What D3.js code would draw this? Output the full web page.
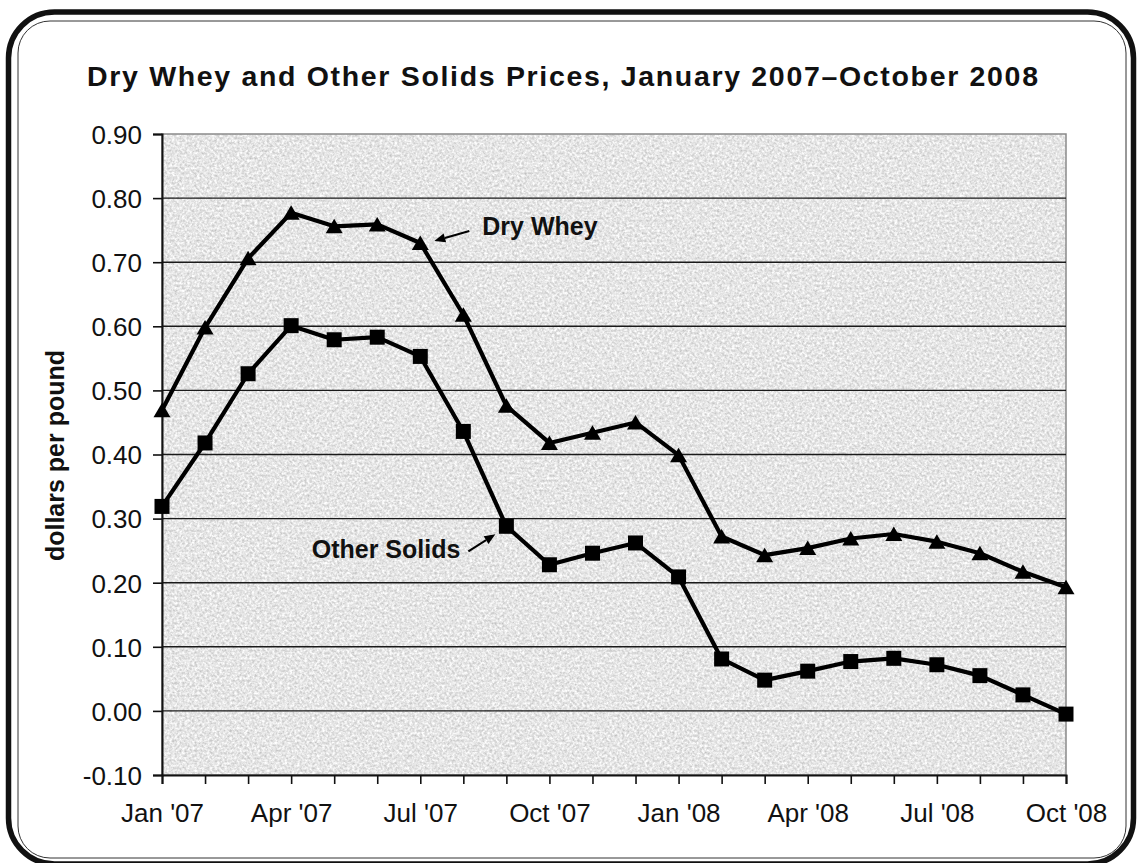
<!DOCTYPE html>
<html>
<head>
<meta charset="utf-8">
<script src="https://cdn.jsdelivr.net/npm/d3@7"></script>
<style>
  html, body { margin: 0; padding: 0; background: #fff; }
  text { font-family: "Liberation Sans", Arial, Helvetica, sans-serif; fill: #111; }
</style>
</head>
<body>
<div id="chart"></div>
<script>
const months = [
  "Jan '07", "Feb '07", "Mar '07", "Apr '07", "May '07", "Jun '07",
  "Jul '07", "Aug '07", "Sep '07", "Oct '07", "Nov '07", "Dec '07",
  "Jan '08", "Feb '08", "Mar '08", "Apr '08", "May '08", "Jun '08",
  "Jul '08", "Aug '08", "Sep '08", "Oct '08",
];
const tickLabels = ["Jan '07", "Apr '07", "Jul '07", "Oct '07", "Jan '08", "Apr '08", "Jul '08", "Oct '08"];
const yTicks = [-0.1, 0, 0.1, 0.2, 0.3, 0.4, 0.5, 0.6, 0.7, 0.8, 0.9];

const dryWhey = [
  0.469, 0.598, 0.706, 0.777, 0.756, 0.759, 0.730, 0.618, 0.476, 0.418, 0.434,
  0.450, 0.399, 0.272, 0.243, 0.254, 0.269, 0.276, 0.264, 0.246, 0.217, 0.193,
];
const otherSolids = [
  0.319, 0.418, 0.526, 0.601, 0.579, 0.583, 0.553, 0.436, 0.288, 0.228, 0.246,
  0.262, 0.209, 0.081, 0.048, 0.062, 0.077, 0.082, 0.072, 0.055, 0.025, -0.005,
];

const title = "Dry Whey and Other Solids Prices, January 2007\u2013October 2008";
const yTitle = "dollars per pound";

const width = 1145;
const height = 863;
const plot = { left: 162, right: 1066, top: 134, bottom: 775 };

const svg = d3
  .select("#chart")
  .append("svg")
  .attr("width", width)
  .attr("height", height);

// speckled gray fill of the plot area
const defs = svg.append("defs");
const noise = defs
  .append("filter")
  .attr("id", "granite")
  .attr("x", 0)
  .attr("y", 0)
  .attr("width", 1)
  .attr("height", 1)
  .attr("color-interpolation-filters", "sRGB");
noise
  .append("feTurbulence")
  .attr("type", "fractalNoise")
  .attr("baseFrequency", 0.4)
  .attr("numOctaves", 3)
  .attr("seed", 7);
noise
  .append("feColorMatrix")
  .attr("type", "matrix")
  .attr("values", "0.36 0 0 0 0.72  0.36 0 0 0 0.72  0.36 0 0 0 0.72  0 0 0 0 1");

// frame
svg
  .append("rect")
  .attr("x", 8.5)
  .attr("y", 12)
  .attr("width", 1125)
  .attr("height", 852)
  .attr("rx", 46)
  .attr("fill", "none")
  .attr("stroke", "#111")
  .attr("stroke-width", 5.5);

svg
  .append("rect")
  .attr("x", 18)
  .attr("y", 21)
  .attr("width", 1108)
  .attr("height", 837)
  .attr("rx", 32)
  .attr("fill", "#fff")
  .attr("stroke", "#333")
  .attr("stroke-width", 1);

/* Scales */
const xScale = d3.scalePoint().domain(months).range([plot.left, plot.right]);
const yScale = d3.scaleLinear().domain([-0.1, 0.9]).range([plot.bottom, plot.top]);

svg
  .append("rect")
  .attr("x", plot.left)
  .attr("y", plot.top)
  .attr("width", plot.right - plot.left)
  .attr("height", plot.bottom - plot.top)
  .attr("filter", "url(#granite)")
  .attr("fill", "#e2e2e2");

svg
  .append("rect")
  .attr("x", plot.left)
  .attr("y", plot.top)
  .attr("width", plot.right - plot.left)
  .attr("height", plot.bottom - plot.top)
  .attr("fill", "none")
  .attr("stroke", "#8a8a8a")
  .attr("stroke-width", 1.5);

// gridlines
svg
  .append("g")
  .selectAll("line")
  .data(yTicks.filter((d) => d > -0.1 && d < 0.9))
  .enter()
  .append("line")
  .attr("x1", plot.left)
  .attr("x2", plot.right)
  .attr("y1", (d) => yScale(d))
  .attr("y2", (d) => yScale(d))
  .attr("stroke", "#1a1a1a")
  .attr("stroke-width", 1.4);

/* Axes */
const yAxis = d3
  .axisLeft(yScale)
  .tickValues(yTicks)
  .tickSize(9)
  .tickPadding(11)
  .tickFormat((d) => d3.format(".2f")(d).replace("\u2212", "-"));

const yG = svg.append("g").attr("transform", `translate(${plot.left},0)`).call(yAxis);

const xAxis = d3
  .axisBottom(xScale)
  .tickSize(9)
  .tickPadding(20)
  .tickFormat((d) => (tickLabels.includes(d) ? d : ""));

const xG = svg.append("g").attr("transform", `translate(0,${plot.bottom})`).call(xAxis);

[yG, xG].forEach((g) => {
  g.select(".domain").attr("stroke", "#111").attr("stroke-width", 2);
  g.selectAll(".tick line").attr("stroke", "#111").attr("stroke-width", 1.6);
  g.selectAll(".tick text")
    .attr("font-family", "Liberation Sans, Arial, sans-serif")
    .attr("font-size", 26)
    .attr("fill", "#111");
});
yG.selectAll(".tick text").attr("dy", "0.36em");
xG.selectAll(".tick text").attr("dy", "0.7em");

/* Lines */
const line = d3
  .line()
  .x((d, i) => xScale(months[i]))
  .y((d) => yScale(d));

const series = [
  { name: "Dry Whey", values: dryWhey, marker: "triangle" },
  { name: "Other Solids", values: otherSolids, marker: "square" },
];

series.forEach((s) => {
  svg
    .append("path")
    .attr("d", line(s.values))
    .attr("fill", "none")
    .attr("stroke", "#000")
    .attr("stroke-width", 4.2)
    .attr("stroke-linejoin", "round");

  const shape = s.marker == "triangle" ? "M0,-7.5L8.5,7L-8.5,7Z" : "M-7.5,-7.5H7.5V7.5H-7.5Z";
  svg
    .append("g")
    .selectAll("path")
    .data(s.values)
    .enter()
    .append("path")
    .attr("d", shape)
    .attr("transform", (d, i) => `translate(${xScale(months[i])},${yScale(d)})`)
    .attr("fill", "#000");
});

/* Labels with arrows, placed relative to a point of the series */
const notes = [
  { text: "Dry Whey", series: 0, month: "Jul '07", tip: [14, -2], tail: [49, -12], at: [62, -8], anchor: "start" },
  { text: "Other Solids", series: 1, month: "Sep '07", tip: [-11, 8], tail: [-38, 25], at: [-46, 32], anchor: "end" },
];

notes.forEach((n) => {
  const px = xScale(n.month);
  const py = yScale(series[n.series].values[months.indexOf(n.month)]);
  const tx = px + n.tip[0];
  const ty = py + n.tip[1];
  const sx = px + n.tail[0];
  const sy = py + n.tail[1];
  const ang = Math.atan2(ty - sy, tx - sx);
  const len = 11;
  const half = 4.5;
  const bx = tx - len * Math.cos(ang);
  const by = ty - len * Math.sin(ang);

  svg
    .append("line")
    .attr("x1", sx)
    .attr("y1", sy)
    .attr("x2", bx)
    .attr("y2", by)
    .attr("stroke", "#000")
    .attr("stroke-width", 2);

  svg
    .append("path")
    .attr(
      "d",
      `M${tx},${ty}L${bx + half * Math.sin(ang)},${by - half * Math.cos(ang)}L${bx - half * Math.sin(ang)},${by + half * Math.cos(ang)}Z`
    )
    .attr("fill", "#000");

  svg
    .append("text")
    .attr("x", px + n.at[0])
    .attr("y", py + n.at[1])
    .attr("text-anchor", n.anchor)
    .attr("font-size", 25)
    .attr("font-weight", "bold")
    .text(n.text);
});

/* Titles */
svg
  .append("text")
  .attr("x", 87)
  .attr("y", 86)
  .attr("font-size", 28.5)
  .attr("font-weight", "bold")
  .attr("fill", "#222")
  .attr("textLength", 951)
  .attr("lengthAdjust", "spacing")
  .text(title);

svg
  .append("text")
  .attr("transform", `translate(64,${(plot.top + plot.bottom) / 2 + 1}) rotate(-90)`)
  .attr("text-anchor", "middle")
  .attr("font-size", 25)
  .attr("font-weight", "bold")
  .text(yTitle);
</script>
</body>
</html>
